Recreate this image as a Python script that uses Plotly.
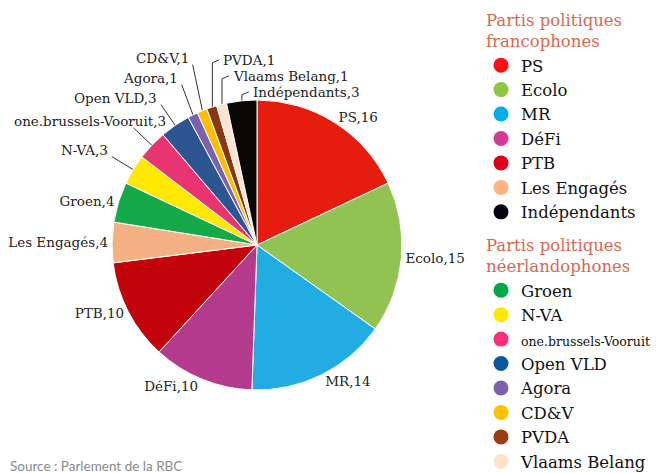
import math

import plotly.graph_objects as go

parties = ['PS', 'Ecolo', 'MR', 'DéFi', 'PTB', 'Les Engagés', 'Groen', 'N-VA',
           'one.brussels-Vooruit', 'Open VLD', 'Agora', 'CD&V', 'PVDA',
           'Vlaams Belang', 'Indépendants']
seats = [16, 15, 14, 10, 10, 4, 4, 3, 3, 3, 1, 1, 1, 1, 3]

legend_fr = ['PS', 'Ecolo', 'MR', 'DéFi', 'PTB', 'Les Engagés', 'Indépendants']
legend_nl = ['Groen', 'N-VA', 'one.brussels-Vooruit', 'Open VLD', 'Agora',
             'CD&V', 'PVDA', 'Vlaams Belang']

source = 'Source : Parlement de la RBC'

# slice colours, and the slightly brighter ones used in the legend
colors = ['#e61c0e', '#92c352', '#21ade2', '#b33a8c', '#c3040c', '#f2b083',
          '#15a94a', '#ffe900', '#e83572', '#2d5592', '#7c62ab', '#fbbd00',
          '#8b3812', '#fde3d0', '#0a0806']
legend_colors = ['#ff1010', '#8dc63f', '#00aee8', '#d33a96', '#e0001b',
                 '#ffb482', '#00a84a', '#ffe800', '#ff2e7a', '#0a57a0',
                 '#7a63ac', '#ffc000', '#9a3d14', '#fde2cc', '#05050f']

FONT = 'DejaVu Serif'
W, H = 664, 473
OFF = 8  # page body margin, so screen px = figure px + OFF
cx, cy, r = 257, 245, 145  # pie centre / radius in screen px
LINE = '#333333'
LABEL_SIZE = 13.5
CHAR_W = 7.2  # rough glyph width of the label font

fig = go.Figure()

# big slices get plotly's own outside labels, small ones get leader lines
small = [v <= 3 for v in seats]
fig.add_trace(go.Pie(
    labels=parties, values=seats,
    sort=False, direction='clockwise', rotation=0,
    marker=dict(colors=colors, line=dict(color='white', width=1)),
    textposition=['none' if s else 'outside' for s in small],
    texttemplate='%{label},%{value}',
    textfont=dict(family=FONT, size=LABEL_SIZE, color='#222'),
    showlegend=False, hoverinfo='label+value',
    domain=dict(x=[(cx - r - OFF) / W, (cx + r - OFF) / W],
                y=[1 - (cy + r - OFF) / H, 1 - (cy - r - OFF) / H]),
))

# leader-line labels for the small slices (axes are in screen pixels)
total = sum(seats)
left, right = [], []
acc = 0
for name, v, s in zip(parties, seats, small):
    ang = math.radians((acc + v / 2) / total * 360)
    acc += v
    if not s:
        continue
    rim = (cx + (r - 2) * math.sin(ang), cy - (r - 2) * math.cos(ang))
    if math.degrees(ang) > 340:
        right.append((name, v, rim))
    else:
        end = (cx + (r + 25) * math.sin(ang), cy - (r + 25) * math.cos(ang))
        left.append((name, v, rim, end))

prev_y = None
for name, v, rim, end in left:
    ey = end[1] if prev_y is None else min(end[1], prev_y - 20)
    prev_y = ey
    text = f'{name},{v}'
    tx = max(end[0] - 2, 10 + len(text) * CHAR_W)
    fig.add_trace(go.Scatter(
        x=[rim[0], end[0]], y=[rim[1], ey], mode='lines',
        line=dict(color=LINE, width=1), showlegend=False, hoverinfo='skip',
    ))
    fig.add_annotation(
        x=tx, y=ey - 7, xref='x', yref='y', text=text,
        xanchor='right', yanchor='middle', showarrow=False,
        font=dict(family=FONT, size=LABEL_SIZE, color='#222'),
    )

prev_y = None
for name, v, rim in reversed(right):
    ly = rim[1] - 11 if prev_y is None else min(rim[1] - 11, prev_y - 16)
    prev_y = ly
    fig.add_trace(go.Scatter(
        x=[rim[0], rim[0], rim[0] + 7], y=[rim[1], ly + 3, ly], mode='lines',
        line=dict(color=LINE, width=1), showlegend=False, hoverinfo='skip',
    ))
    fig.add_annotation(
        x=rim[0] + 9, y=ly, xref='x', yref='y', text=f'{name},{v}',
        xanchor='left', yanchor='middle', showarrow=False,
        font=dict(family=FONT, size=LABEL_SIZE, color='#222'),
    )

# legend built from marker-only traces, in two groups
color_of = dict(zip(parties, legend_colors))
groups = [('fr', 'Partis politiques<br>francophones', legend_fr),
          ('nl', 'Partis politiques<br>néerlandophones', legend_nl)]
for gid, title, names in groups:
    for i, name in enumerate(names):
        shown = name
        if len(name) > 16:
            shown = f'<span style="font-size:12.5px">{name}</span>'
        fig.add_trace(go.Scatter(
            x=[None], y=[None], mode='markers',
            marker=dict(size=15, color=color_of[name]),
            name=shown, legendgroup=gid,
            legendgrouptitle=dict(
                text=title,
                font=dict(family=FONT, size=16.5, color='#d9674f'),
            ) if i == 0 else None,
        ))

fig.add_annotation(
    text=source, xref='x', yref='y', x=OFF, y=466,
    xanchor='left', yanchor='middle', showarrow=False,
    font=dict(family='Lato', size=13.5, color='#8a8a8a'),
)

fig.update_xaxes(visible=False, range=[OFF, W + OFF], domain=[0, 1])
fig.update_yaxes(visible=False, range=[H + OFF, OFF], domain=[0, 1])
fig.update_layout(
    width=W, height=H,
    font=dict(family=FONT),
    margin=dict(l=0, r=0, t=0, b=0, autoexpand=False),
    paper_bgcolor='white', plot_bgcolor='white',
    legend=dict(
        x=(481 - OFF) / W, y=1 + 6 / H, xanchor='left', yanchor='top',
        font=dict(family=FONT, size=16.5, color='#111'),
        tracegroupgap=8, maxheight=800,
        bgcolor='rgba(0,0,0,0)',
    ),
)

fig.write_html('out.html')
